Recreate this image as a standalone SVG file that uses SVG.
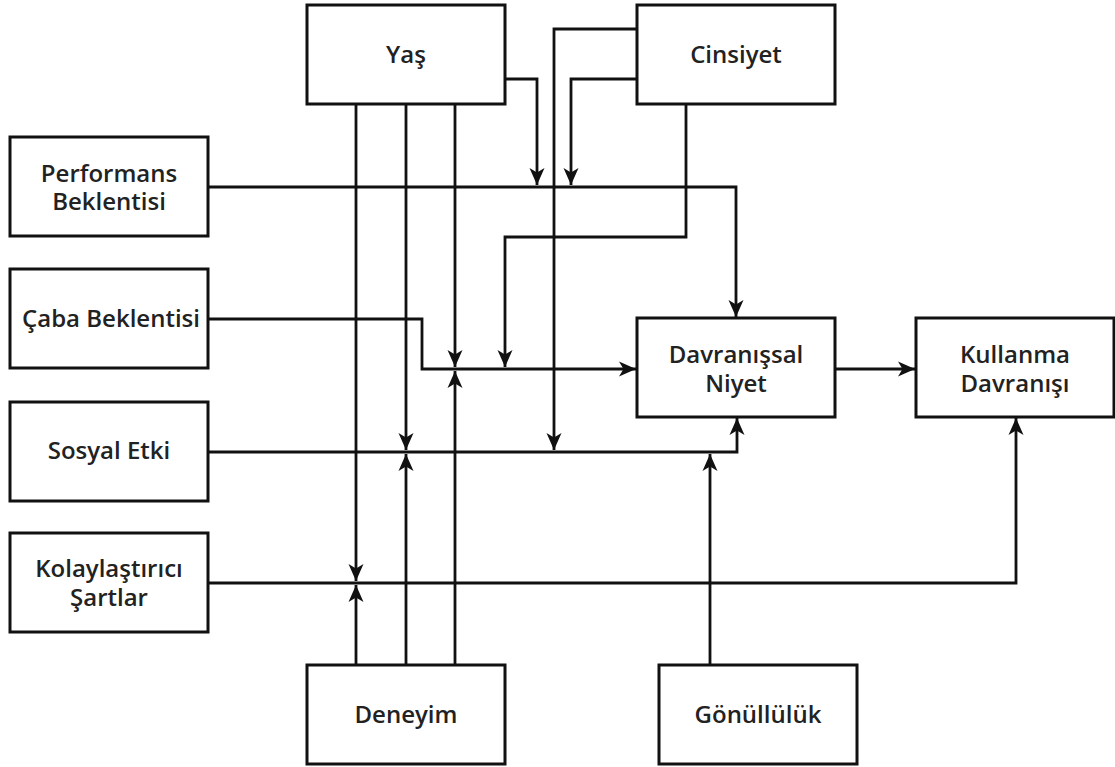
<svg xmlns="http://www.w3.org/2000/svg" width="1115" height="767" viewBox="0 0 1115 767">
<style>
.box{fill:#fff;stroke:#111;stroke-width:3}
.lbl{font-family:"Open Sans","Noto Sans",sans-serif;font-weight:600;font-size:24px;fill:#222;text-anchor:middle}
.edge{fill:none;stroke:#111;stroke-width:2.8}
</style>
<defs>
<marker id="arr" markerUnits="userSpaceOnUse" viewBox="-19 -9 20 18" refX="0" refY="0" markerWidth="20" markerHeight="18" orient="auto">
<path d="M0 0 L-17 -7.5 L-12.5 0 L-17 7.5 Z" fill="#111"/>
</marker>
</defs>
<rect width="1115" height="767" fill="#fff"/>
<g id="connectors">
<path class="edge" d="M356 104 V581" marker-end="url(#arr)"/>
<path class="edge" d="M356 665 V585" marker-end="url(#arr)"/>
<path class="edge" d="M406 104 V450" marker-end="url(#arr)"/>
<path class="edge" d="M406 665 V454" marker-end="url(#arr)"/>
<path class="edge" d="M455 104 V367" marker-end="url(#arr)"/>
<path class="edge" d="M455 665 V371" marker-end="url(#arr)"/>
<path class="edge" d="M505 79 H537 V185" marker-end="url(#arr)"/>
<path class="edge" d="M637 29 H554 V450" marker-end="url(#arr)"/>
<path class="edge" d="M637 79 H571 V185" marker-end="url(#arr)"/>
<path class="edge" d="M686 104 V237 H505 V367" marker-end="url(#arr)"/>
<path class="edge" d="M208 187 H736 V317" marker-end="url(#arr)"/>
<path class="edge" d="M208 319 H422 V369 H636" marker-end="url(#arr)"/>
<path class="edge" d="M208 452 H737 V418" marker-end="url(#arr)"/>
<path class="edge" d="M710 665 V454" marker-end="url(#arr)"/>
<path class="edge" d="M208 583 H1016 V418" marker-end="url(#arr)"/>
<path class="edge" d="M835 369 H915" marker-end="url(#arr)"/>
</g>
<g id="yas"><rect class="box" x="307" y="5" width="198" height="99"/><text class="lbl" x="406" y="63">Yaş</text></g>
<g id="cinsiyet"><rect class="box" x="637" y="5" width="198" height="99"/><text class="lbl" x="736" y="63">Cinsiyet</text></g>
<g id="performans"><rect class="box" x="10" y="137" width="198" height="99"/><text class="lbl" x="109" y="181.5">Performans</text><text class="lbl" x="109" y="210">Beklentisi</text></g>
<g id="caba"><rect class="box" x="10" y="269" width="198" height="99"/><text class="lbl" x="111" y="327">Çaba Beklentisi</text></g>
<g id="sosyal"><rect class="box" x="10" y="402" width="198" height="99"/><text class="lbl" x="109" y="459">Sosyal Etki</text></g>
<g id="kolaylastirici"><rect class="box" x="10" y="533" width="198" height="99"/><text class="lbl" x="109" y="577">Kolaylaştırıcı</text><text class="lbl" x="109" y="606">Şartlar</text></g>
<g id="davranissal"><rect class="box" x="637" y="318" width="198" height="99"/><text class="lbl" x="736" y="362.5">Davranışsal</text><text class="lbl" x="736" y="391.5">Niyet</text></g>
<g id="kullanma"><rect class="box" x="916" y="318" width="198" height="99"/><text class="lbl" x="1015" y="362.5">Kullanma</text><text class="lbl" x="1015" y="391.5">Davranışı</text></g>
<g id="deneyim"><rect class="box" x="307" y="665" width="198" height="99"/><text class="lbl" x="406" y="723">Deneyim</text></g>
<g id="gonulluluk"><rect class="box" x="659" y="665" width="198" height="99"/><text class="lbl" x="758" y="723">Gönüllülük</text></g>
</svg>
